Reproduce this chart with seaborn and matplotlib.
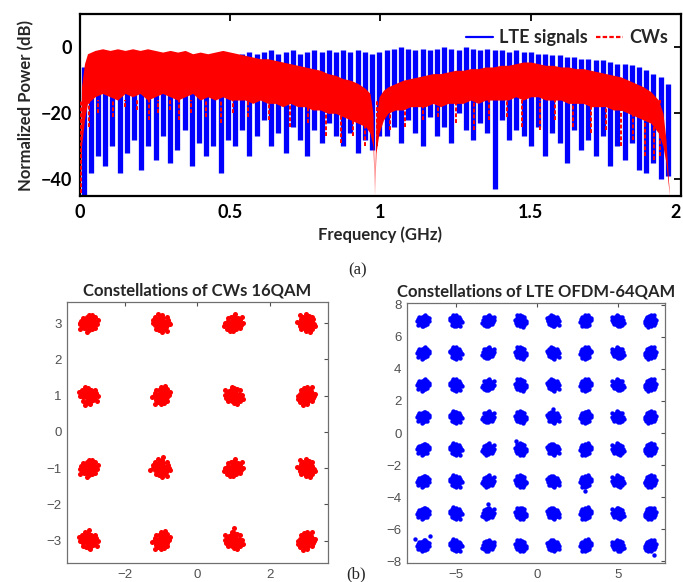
import numpy as np
import pandas as pd
import matplotlib
matplotlib.use("Agg")
import matplotlib.pyplot as plt
from matplotlib.lines import Line2D
import seaborn as sns

# ---------------- data: (a) spectrum ----------------
# LTE channel centres (GHz): 82 channels, 0.024 GHz apart, starting 0.012 GHz
lte_first_center = 0.012
lte_spacing = 0.024
lte_top = [-6, -4, -3,
           -3, -2.5, -3, -2, -3, -2.5, -3, -2, -3, -2.5, -3, -2.5, -3, -2, -3, -2.5, -3, -2.5,
           -2.5, -2, -1.5, -2, -1.5, -1, -2, -1.5, -1, -2, -1.5, -1, -1.5, -1, -1.5,
           -1, -1.5, -1, -1.5, -2, -1.5,
           -1, -0.5, 0, -0.5, -1, -0.5, -1, -0.5, 0, -0.5, -1, 0, -0.5, -1, -0.5, -1, -1, -1.5, -1,
           -1.5, -1.5, -2, -2, -2.5, -2.5, -3, -3, -3.5, -3.5,
           -4, -4, -4.5, -5, -5, -5.5, -6,
           -7, -8, -9, -11]
lte_dip = [-45, -38, -33,
           -36, -30, -38, -32, -28, -37, -30, -34, -27, -35, -31, -25, -36, -29, -33, -30, -38, -28,
           -30, -25, -33, -27, -22, -30, -26, -32, -24, -28, -33, -25, -29, -23, -27,
           -30, -26, -32, -28, -31, -27,
           -27, -24, -29, -22, -26, -30, -21, -27, -24, -29, -20, -25, -28, -23, -26, -43, -22, -28, -25,
           -27, -30, -24, -33, -26, -29, -35, -25, -31, -28,
           -33, -27, -36, -30, -34, -29, -37,
           -38, -35, -40, -39]

# CW band envelope (GHz, dB)
cw_freq = [0.000, 0.005, 0.015, 0.025, 0.050, 0.075, 0.100, 0.125, 0.150, 0.175,
           0.200, 0.225, 0.250, 0.275, 0.300, 0.325, 0.350, 0.375, 0.400, 0.425,
           0.450, 0.475, 0.500, 0.525, 0.550, 0.575, 0.600, 0.625, 0.650, 0.675,
           0.700, 0.725, 0.750, 0.775, 0.800, 0.825, 0.850, 0.875, 0.900, 0.925,
           0.950, 0.965, 0.975, 0.980, 0.985, 0.995, 1.010, 1.025, 1.050, 1.075,
           1.100, 1.125, 1.150, 1.175, 1.200, 1.225, 1.250, 1.275, 1.300, 1.325,
           1.350, 1.375, 1.400, 1.425, 1.450, 1.475, 1.500, 1.525, 1.550, 1.575,
           1.600, 1.625, 1.650, 1.675, 1.700, 1.725, 1.750, 1.775, 1.800, 1.825,
           1.850, 1.875, 1.900, 1.925, 1.940, 1.950, 1.958, 1.962]
cw_top = [-45, -12, -5, -2, -1, -0.5, -1, -0.5, -1, -0.5,
          -1, -0.5, -1, -1.5, -1, -1.5, -1, -2, -1.5, -2,
          -1.5, -1, -1.5, -2, -2.5, -3, -3.5, -3.5, -4, -4.5,
          -5, -5.5, -6, -6.5, -7, -8, -8.5, -9.5, -10, -11,
          -12.5, -14, -20, -45, -22, -15, -13, -12, -11, -10,
          -9.5, -9, -8.5, -8, -8, -7.5, -7, -7, -6.5, -6.5,
          -6, -6, -5.5, -5.5, -5, -4.5, -4.5, -5, -5.5, -5.5,
          -6, -6, -6.5, -6.5, -7, -7.5, -8, -8.5, -9, -10,
          -11, -12, -13.5, -16, -20, -28, -40, -45]
cw_bottom = [-45, -30, -22, -17, -15, -14, -15, -16, -14, -15,
             -14, -16, -15, -14, -15, -16, -15, -14, -16, -15,
             -16, -15, -16, -16, -16, -17, -16, -17, -17, -18,
             -17, -18, -18, -19, -19, -20, -20, -21, -22, -23,
             -24, -26, -30, -45, -32, -26, -22, -20, -19, -19,
             -18, -18, -18, -17, -18, -17, -17, -17, -16, -17,
             -16, -16, -16, -16, -15, -16, -15, -15, -16, -16,
             -16, -17, -17, -17, -18, -18, -18, -19, -19, -20,
             -21, -22, -23, -26, -30, -35, -42, -45]
cw_dip_freq = [0.003, 0.03, 0.06, 0.11, 0.15, 0.19, 0.23, 0.26, 0.30, 0.33,
               0.37, 0.42, 0.47, 0.51, 0.56, 0.63, 0.70, 0.76, 0.82, 0.87,
               0.91, 0.95, 0.99, 1.03, 1.08, 1.14, 1.19, 1.25, 1.31, 1.36,
               1.42, 1.47, 1.53, 1.58, 1.64, 1.70, 1.75, 1.80, 1.84, 1.88,
               1.91, 1.93]
cw_dip_level = [-44, -24, -20, -21, -18, -19, -22, -20, -19, -22,
                -20, -21, -23, -20, -21, -22, -24, -23, -27, -29,
                -27, -30, -30, -25, -24, -22, -21, -23, -25, -22,
                -21, -24, -25, -22, -24, -26, -25, -30, -28, -33,
                -34, -33]

spec_xticks = [0, 0.5, 1, 1.5, 2]
spec_xticklabels = ["0", "0.5", "1", "1.5", "2"]
spec_yticks = [-40, -20, 0]

# ---------------- data: (b) constellations ----------------
qam16_levels = [-3, -1, 1, 3]
qam64_levels = [-7, -5, -3, -1, 1, 3, 5, 7]
noise_dx = [0.00, 0.35, -0.30, 0.10, -0.15, 0.55, -0.55, 0.20, -0.20, 0.45,
            -0.45, 0.70, -0.75, 0.05, 0.00, 0.30, -0.35, 0.60, -0.65, 0.85,
            -0.90, 0.15, -0.10, 0.25, -0.40, 0.40, -0.25, 0.10, -0.05, 0.50,
            -0.60, 0.65, -0.15, 0.35, 0.95, -0.85, 0.20, -0.20, 0.05, -0.50]
noise_dy = [0.00, 0.10, 0.20, -0.40, -0.25, -0.20, -0.10, 0.50, 0.60, 0.45,
            -0.50, 0.15, 0.25, 0.80, -0.75, -0.65, 0.45, -0.55, -0.35, -0.05,
            -0.05, 0.25, 0.40, -0.15, -0.05, 0.30, -0.55, -0.20, 0.15, 0.00,
            0.55, 0.60, -0.90, 0.85, 0.35, -0.60, 0.05, -0.10, 0.50, 0.15]
qam16_outlier_x = [-3.25, -3.10, -1.30, -3.00, 1.00, 3.20, -0.95]
qam16_outlier_y = [3.00, 0.75, -1.05, -2.70, -2.65, 3.12, -0.70]
qam64_outlier_x = [-7.5, -6.6, -3.0, 3.0, 7.2, 1.0, -1.3]
qam64_outlier_y = [-6.6, -6.4, -4.4, -3.6, -7.6, 1.5, -0.5]

# ---------------- helpers ----------------
def cluster_points(levels, scale):
    xs, ys = [], []
    dx = np.array(noise_dx)
    dy = np.array(noise_dy)
    k = 0
    for yi in levels[::-1]:
        for xi in levels:
            v = k % 8
            ax_, ay_ = dx, dy
            for _ in range(v % 4):
                ax_, ay_ = -ay_, ax_
            if v >= 4:
                ax_ = -ax_
            xs.append(xi + scale * ax_)
            ys.append(yi + scale * ay_)
            k += 1
    return np.concatenate(xs), np.concatenate(ys)


sns.set_style("white")
plt.rcParams["font.family"] = ["Lato", "DejaVu Sans"]

fig = plt.figure(figsize=(6.83, 5.82), dpi=100)

# ---------------- (a) ----------------
ax1 = fig.add_axes([0.1171, 0.6632, 0.8800, 0.3127])
centers = lte_first_center + lte_spacing * np.arange(len(lte_top))
ax1.vlines(centers, lte_dip, lte_top, color="#0000ff", lw=3.8, zorder=2)
ax1.fill_between(cw_freq, cw_bottom, cw_top, color="#ff0000", lw=0, zorder=3)
ax1.vlines(cw_dip_freq, cw_dip_level, -16, color="#ff0000", lw=1.4,
           linestyles=(0, (2, 1)), zorder=4)
ax1.set_xlim(0, 2)
ax1.set_ylim(-45, 10)
ax1.set_xticks(spec_xticks)
ax1.set_xticklabels(spec_xticklabels)
ax1.set_yticks(spec_yticks)
ax1.tick_params(direction="in", length=5, width=1.3, top=True, right=True,
                labelsize=13, pad=6, colors="black")
for lab in ax1.get_xticklabels() + ax1.get_yticklabels():
    lab.set_fontweight("bold")
ax1.get_xticklabels()[-1].set_horizontalalignment("right")
for s in ax1.spines.values():
    s.set_linewidth(1.6)
    s.set_color("black")
ax1.set_xlabel("Frequency (GHz)", fontsize=12, fontweight="bold", labelpad=4)
ax1.set_ylabel("Normalized Power (dB)", fontsize=12, fontweight="bold", labelpad=4)
handles = [Line2D([], [], color="#0000ff", lw=1.6),
           Line2D([], [], color="#ff0000", lw=1.6, ls=(0, (2, 1)))]
ax1.legend(handles, ["LTE signals", "CWs"], loc="upper right",
           bbox_to_anchor=(1.0, 0.985), ncol=2, frameon=False,
           prop={"weight": "bold", "size": 13}, handlelength=1.5,
           handletextpad=0.35, columnspacing=0.45, borderaxespad=0.3)

fig.text(358 / 683, 1 - 270 / 582, "(a)", ha="center", va="center",
         fontsize=12, family=["Liberation Serif"])

# ---------------- (b) left ----------------
gray = "#505050"
ax2 = fig.add_axes([0.0981, 0.0326, 0.3821, 0.4485])
x16, y16 = cluster_points(qam16_levels, 0.27)
x16 = np.concatenate([x16, qam16_outlier_x])
y16 = np.concatenate([y16, qam16_outlier_y])
sns.scatterplot(x=x16, y=y16, ax=ax2, color="#ff0000", s=13, linewidth=0,
                legend=False)
ax2.set_xlim(-3.6, 3.6)
ax2.set_ylim(-3.62, 3.58)
ax2.set_xticks([-2, 0, 2])
ax2.set_yticks([-3, -2, -1, 0, 1, 2, 3])
ax2.set_title("Constellations of CWs 16QAM", fontsize=12, fontweight="bold",
              pad=5)

# ---------------- (b) right ----------------
ax3 = fig.add_axes([0.5959, 0.0326, 0.3777, 0.4467])
x64, y64 = cluster_points(qam64_levels, 0.40)
x64 = np.concatenate([x64, qam64_outlier_x])
y64 = np.concatenate([y64, qam64_outlier_y])
sns.scatterplot(x=x64, y=y64, ax=ax3, color="#0000ff", s=10, linewidth=0,
                legend=False)
ax3.set_xlim(-8, 7.9)
ax3.set_ylim(-8.1, 8.1)
ax3.set_xticks([-5, 0, 5])
ax3.set_yticks([-8, -6, -4, -2, 0, 2, 4, 6, 8])
ax3.set_title("Constellations of LTE OFDM-64QAM", fontsize=12,
              fontweight="bold", pad=5)

for ax in (ax2, ax3):
    ax.set_xlabel("")
    ax.set_ylabel("")
    ax.tick_params(direction="in", length=3, width=0.8, top=True, right=True,
                   labelsize=9.5, colors=gray, pad=4)
    for lab in ax.get_xticklabels() + ax.get_yticklabels():
        lab.set_family(["Liberation Sans"])
    for s in ax.spines.values():
        s.set_linewidth(0.9)
        s.set_color("#707070")

fig.text(356 / 683, 1 - 574 / 582, "(b)", ha="center", va="center",
         fontsize=12, family=["Liberation Serif"])

fig.savefig("out.png", dpi=100)
